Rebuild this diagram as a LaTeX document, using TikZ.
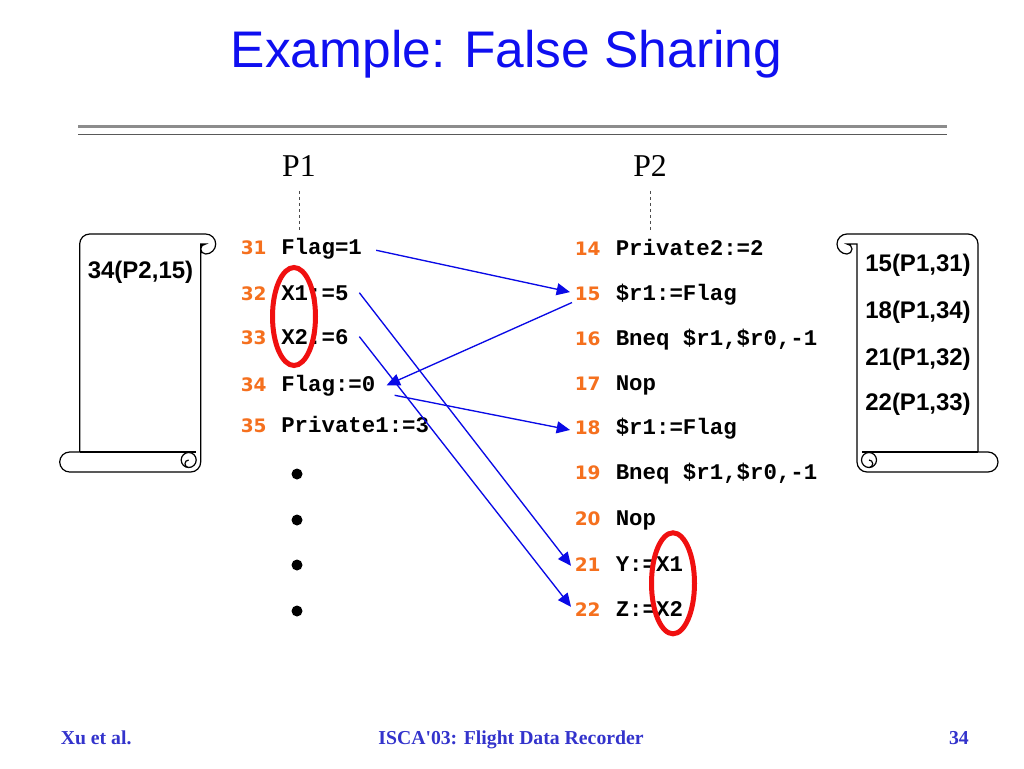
\documentclass[tikz,border=0pt]{standalone}
\usepackage{fontspec}
\setmainfont{Liberation Serif}
\newfontfamily\headfont{Liberation Sans}
\newfontfamily\codefont{Liberation Mono}
\newfontfamily\numfont{DejaVu Sans}
\usetikzlibrary{arrows.meta,calc}

% scroll outline, local units: curl offset, body width
\newcommand{\scrollshape}[2]{%
\filldraw[scrolline] (-#1,0) -- ({#2-10},0) arc[start angle=270,end angle=360,radius=10] -- (#2,218) -- ({#2+10},218) arc[start angle=270,end angle=450,radius=10] -- (10,238) arc[start angle=90,end angle=180,radius=10] -- (0,10) -- (-#1,10) arc[start angle=270,end angle=450,radius=5] arc[start angle=90,end angle=270,radius=10] -- cycle;
\draw[scrolline] (5,218) -- (#2,218);
\draw[scrolline] (12,226) circle[radius=7.5];
\draw[scrolline] (12,233.5) arc[start angle=90,end angle=-90,radius=3.75];
}

\begin{document}
\begin{tikzpicture}[x=0.75pt,y=-0.75pt,
  every node/.style={inner sep=0pt},
  num/.style={font=\numfont\bfseries\fontsize{13.9}{16}\selectfont, text=numcol, anchor=base west},
  code/.style={font=\codefont\bfseries\fontsize{16.8}{19}\selectfont, anchor=base west},
  roll/.style={font=\headfont\bfseries\fontsize{18}{21}\selectfont, anchor=base},
  foot/.style={font=\bfseries\fontsize{14.8}{17}\selectfont, text=footcol, anchor=base},
  msg/.style={draw=msgcol, line width=1pt, -{Triangle[length=10pt,width=9pt]}, fill=msgcol},
  scrolline/.style={draw=black, fill=white, line width=0.9pt},
  lifeline/.style={draw=black!70, line width=0.75pt, dash pattern=on 2.25pt off 2.25pt},
  hilite/.style={draw=hilitecol, line width=3.75pt}]
\definecolor{titlecol}{HTML}{0F0FF0}
\definecolor{footcol}{HTML}{3333CC}
\definecolor{numcol}{HTML}{F5701E}
\definecolor{msgcol}{HTML}{0A0AE6}
\definecolor{hilitecol}{HTML}{F01010}
\useasboundingbox (0,0) rectangle (1024,768);
\fill[white] (0,0) rectangle (1024,768);

% title and rules
\node[font=\headfont\fontsize{38.6}{44}\selectfont, text=titlecol, anchor=base] (title) at (506.5,67) {Example: False Sharing};
\draw[line width=2.6pt, color=black!45] (78,126.5) -- (947,126.5);
\draw[line width=1.1pt, color=black!65] (78,134.5) -- (947,134.5);

% processors
\node[font=\fontsize{23.8}{27}\selectfont, anchor=base] (p1) at (299,176) {P1};
\node[font=\fontsize{23.8}{27}\selectfont, anchor=base] (p2) at (650,176) {P2};
\coordinate (p1foot) at ($(p1.south)+(0,56)$);
\coordinate (p2foot) at ($(p2.south)+(0,56)$);
\draw[lifeline, shorten <=11pt] (p1.south) -- (p1foot);
\draw[lifeline, shorten <=11pt] (p2.south) -- (p2foot);

% P1 code
\node[num] (n31) at (240.5,254) {31}; \node[code] (c31) at (281,254) {Flag=1};
\node[num] (n32) at (240.5,300) {32}; \node[code] (c32) at (281,300) {X1:=5};
\node[num] (n33) at (240.5,344) {33}; \node[code] (c33) at (281,344) {X2:=6};
\node[num] (n34) at (240.5,391) {34}; \node[code] (c34) at (281,391) {Flag:=0};
\node[num] (n35) at (240.5,432) {35}; \node[code] (c35) at (281,432) {Private1:=3};
\fill (297,474) circle[radius=5.5];
\fill (297,520) circle[radius=5.5];
\fill (297,565) circle[radius=5.5];
\fill (297,611) circle[radius=5.5];

% P2 code
\node[num] (n14) at (574.5,255) {14}; \node[code] (c14) at (615.5,255) {Private2:=2};
\node[num] (n15) at (574.5,300) {15}; \node[code] (c15) at (615.5,300) {\$r1:=Flag};
\node[num] (n16) at (574.5,345) {16}; \node[code] (c16) at (615.5,345) {Bneq \$r1,\$r0,-1};
\node[num] (n17) at (574.5,390) {17}; \node[code] (c17) at (615.5,390) {Nop};
\node[num] (n18) at (574.5,434) {18}; \node[code] (c18) at (615.5,434) {\$r1:=Flag};
\node[num] (n19) at (574.5,479) {19}; \node[code] (c19) at (615.5,479) {Bneq \$r1,\$r0,-1};
\node[num] (n20) at (574.5,525) {20}; \node[code] (c20) at (615.5,525) {Nop};
\node[num] (n21) at (574.5,571) {21}; \node[code] (c21) at (615.5,571) {Y:=X1};
\node[num] (n22) at (574.5,616.5) {22}; \node[code] (c22) at (615.5,616.5) {Z:=X2};

% dependences
\draw[msg] ($(c31.east)+(14,2)$) -- ($(n15.west)+(-4.5,-1.3)$);
\draw[msg] ($(n15.south west)+(-2.5,2)$) -- ($(c34.east)+(11,0)$);
\draw[msg] ($(c34.east)+(19,10)$) -- ($(n18.west)+(-4.5,2.7)$);
\draw[msg] ($(c32.east)+(10.6,0)$) -- ($(n21.west)+(-3.5,1.7)$);
\draw[msg] ($(c33.east)+(10.6,0)$) -- ($(n22.west)+(-3.5,-2.8)$);

% false sharing
\draw[hilite] (294,316.5) ellipse[x radius=21.5, y radius=49];
\draw[hilite] (673,583.3) ellipse[x radius=21.5, y radius=50.5];

% logs
\begin{scope}[shift={(200.7,234)}, xscale=-1]
\scrollshape{5}{121}
\end{scope}
\begin{scope}[shift={(857,234)}]
\scrollshape{10}{121}
\end{scope}
\node[roll] (log1) at (140.5,278) {34(P2,15)};
\node[roll] (log2a) at (918,271) {15(P1,31)};
\node[roll] (log2b) at (918,318) {18(P1,34)};
\node[roll] (log2c) at (918,365) {21(P1,32)};
\node[roll] (log2d) at (918,410) {22(P1,33)};

% footer
\node[foot, anchor=base west] (author) at (60.5,744) {Xu et al.};
\node[foot] (venue) at (511,744) {ISCA\textquotesingle03: Flight Data Recorder};
\node[foot, anchor=base east] (page) at (969,744) {34};
\end{tikzpicture}
\end{document}
